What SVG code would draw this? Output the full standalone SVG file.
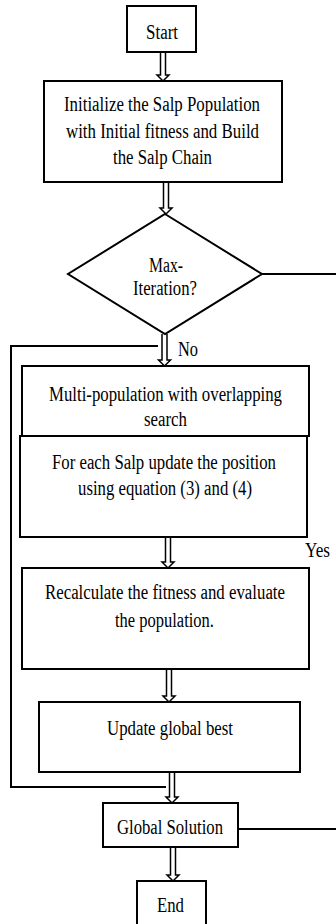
<svg xmlns="http://www.w3.org/2000/svg" width="336" height="924" viewBox="0 0 336 924">
<style>
.box{fill:#fff;stroke:#000;stroke-width:2}
.ln{fill:none;stroke:#000;stroke-width:2}
.arr{fill:#fff;stroke:#000;stroke-width:1.5;stroke-linejoin:miter}
text{font-family:"Liberation Serif","Times New Roman",serif;font-size:20.5px;fill:#000}
</style>
<rect width="336" height="924" fill="#fff"/>
<g id="connectors">
<polyline class="ln" points="158,346 11,346 11,787 166,787"/>
<line class="ln" x1="262" y1="274" x2="336" y2="274"/>
<line class="ln" x1="238" y1="829" x2="336" y2="829"/>
<path class="arr" d="M160.5,52 V75 H157 L163,81 L169,75 H165.5 V52"/>
<path class="arr" d="M163.5,182 V208 H160 L166,214 L172,208 H168.5 V182"/>
<path class="arr" d="M162,334 V360 H158.5 L164.5,366 L170.5,360 H167 V334"/>
<path class="arr" d="M165.5,537 V562 H162 L168,568 L174,562 H170.5 V537"/>
<path class="arr" d="M166.5,669 V696 H163 L169,702 L175,696 H171.5 V669"/>
<path class="arr" d="M169.5,772 V797 H166 L172,803 L178,797 H174.5 V772"/>
<path class="arr" d="M170.5,847 V875 H167 L173,881 L179,875 H175.5 V847"/>
<text x="178" y="356" textLength="20" lengthAdjust="spacingAndGlyphs">No</text>
<text x="305" y="557" textLength="25" lengthAdjust="spacingAndGlyphs">Yes</text>
</g>
<g id="start">
<rect class="box" x="127" y="6" width="69" height="46"/>
<text x="146" y="39" textLength="32" lengthAdjust="spacingAndGlyphs">Start</text>
</g>
<g id="init">
<rect class="box" x="44" y="81" width="238" height="101"/>
<text x="64" y="111" textLength="196" lengthAdjust="spacingAndGlyphs">Initialize the Salp Population</text>
<text x="66" y="138" textLength="193" lengthAdjust="spacingAndGlyphs">with Initial fitness and Build</text>
<text x="113" y="164" textLength="99" lengthAdjust="spacingAndGlyphs">the Salp Chain</text>
</g>
<g id="decision">
<polygon class="box" points="165,214 262,274 165,334 68,274"/>
<text x="149" y="272" textLength="34" lengthAdjust="spacingAndGlyphs">Max-</text>
<text x="133" y="295" textLength="64" lengthAdjust="spacingAndGlyphs">Iteration?</text>
</g>
<g id="multi">
<rect class="box" x="22" y="366" width="287" height="70"/>
<text x="49" y="401" textLength="233" lengthAdjust="spacingAndGlyphs">Multi-population with overlapping</text>
<text x="144" y="426" textLength="43" lengthAdjust="spacingAndGlyphs">search</text>
</g>
<g id="foreach">
<rect class="box" x="20" y="436" width="287" height="101"/>
<text x="52" y="469" textLength="224" lengthAdjust="spacingAndGlyphs">For each Salp update the position</text>
<text x="78" y="495" textLength="174" lengthAdjust="spacingAndGlyphs">using equation (3) and (4)</text>
</g>
<g id="recalc">
<rect class="box" x="22" y="568" width="287" height="101"/>
<text x="45" y="599" textLength="240" lengthAdjust="spacingAndGlyphs">Recalculate the fitness and evaluate</text>
<text x="115" y="627" textLength="99" lengthAdjust="spacingAndGlyphs">the population.</text>
</g>
<g id="update">
<rect class="box" x="39" y="702" width="261" height="70"/>
<text x="107" y="735" textLength="126" lengthAdjust="spacingAndGlyphs">Update global best</text>
</g>
<g id="global">
<rect class="box" x="103" y="803" width="135" height="44"/>
<text x="117" y="834" textLength="106" lengthAdjust="spacingAndGlyphs">Global Solution</text>
</g>
<g id="end">
<rect class="box" x="137" y="881" width="69" height="50"/>
<text x="157" y="912" textLength="27" lengthAdjust="spacingAndGlyphs">End</text>
</g>
</svg>
